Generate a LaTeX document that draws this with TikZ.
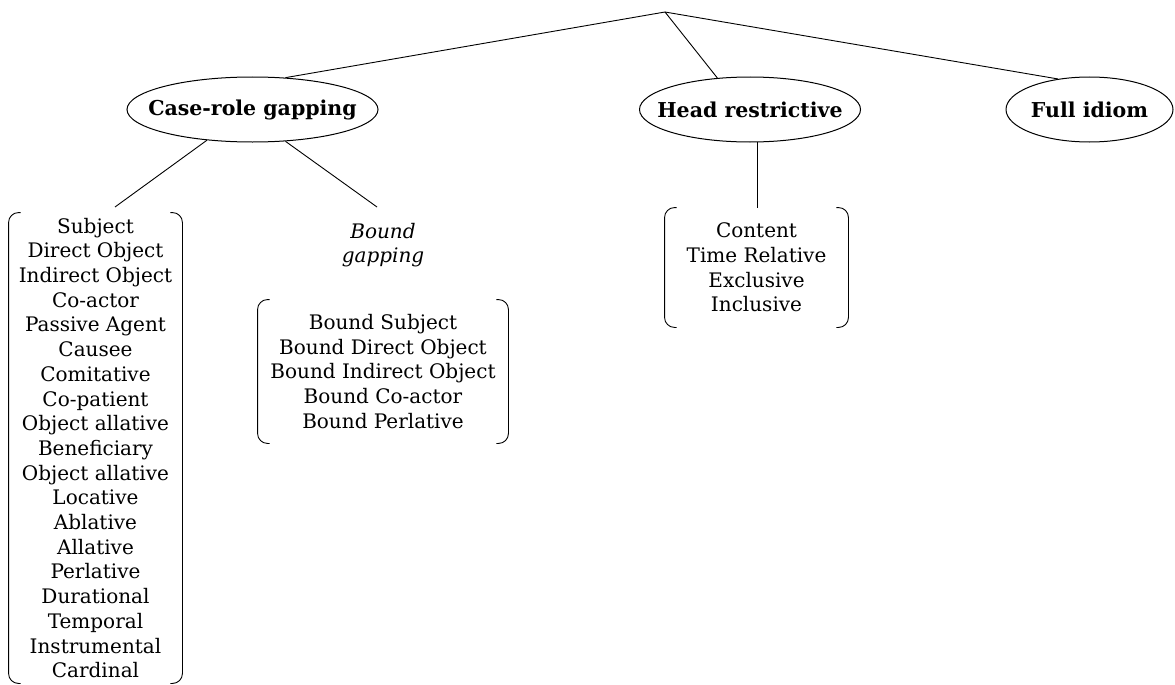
\documentclass[tikz,border=0pt]{standalone}
\usepackage{fontspec}
\setmainfont{DejaVu Serif}
\usetikzlibrary{shapes.geometric}
\usetikzlibrary{positioning}

% label of zero width, so the ellipse keeps its own size
\newcommand{\kindlabel}[1]{\makebox[0pt]{#1}}

\begin{document}
\begin{tikzpicture}[
  x=1pt, y=-1pt,
  every node/.style={inner sep=0pt, font=\fontsize{20}{24.7}\selectfont},
  kind/.style={ellipse, draw, line width=1pt, minimum height=65pt,
    font=\fontsize{20.5}{22}\selectfont\bfseries},
  roles/.style={align=center},
  every path/.style={line width=0.9pt},
]
\useasboundingbox (0,0) rectangle (1175,685);
\coordinate (root) at (665,12);
\node[kind, minimum width=251pt] (CR) at (252.5,109.5) {\kindlabel{Case-role gapping}};
\node[kind, minimum width=221pt] (HR) at (750,109.5)   {\kindlabel{Head restrictive}};
\node[kind, minimum width=167pt] (FI) at (1089.5,109.5) {\kindlabel{Full idiom}};

\node[roles, minimum width=173pt, minimum height=470pt] (L) at (95.5,448) {Subject\\Direct Object\\Indirect Object\\Co-actor\\Passive Agent\\Causee\\Comitative\\Co-patient\\Object allative\\Beneficiary\\Object allative\\Locative\\Ablative\\Allative\\Perlative\\Durational\\Temporal\\Instrumental\\Cardinal};
\node[roles, font=\fontsize{20}{24.7}\selectfont\itshape] (BG) at (383,245) {Bound\\gapping};
\node[roles, minimum width=250pt, minimum height=143pt] (B) at (383,371.5) {Bound Subject\\Bound Direct Object\\Bound Indirect Object\\Bound Co-actor\\Bound Perlative};
\node[roles, minimum width=183pt, minimum height=119pt] (H) at (756.5,267.5) {Content\\Time Relative\\Exclusive\\Inclusive};

\coordinate (Ltop) at (115,207);
\coordinate (Btop) at (377,207);

% brackets round the lists
\foreach \n in {L,B,H} {
  \draw[rounded corners=10pt] ([xshift=12pt]\n.north west) -- (\n.north west)
    -- (\n.south west) -- ([xshift=12pt]\n.south west);
  \draw[rounded corners=10pt] ([xshift=-12pt]\n.north east) -- (\n.north east)
    -- (\n.south east) -- ([xshift=-12pt]\n.south east);
}

\draw (root) -- (CR.44);
\draw (root) -- (HR.136);
\draw (root) -- (FI.136);
\draw (CR.214) -- (Ltop);
\draw (CR.-44) -- (Btop);
\draw (HR.-78) -- (HR.-78 |- H.north);
\end{tikzpicture}
\end{document}
